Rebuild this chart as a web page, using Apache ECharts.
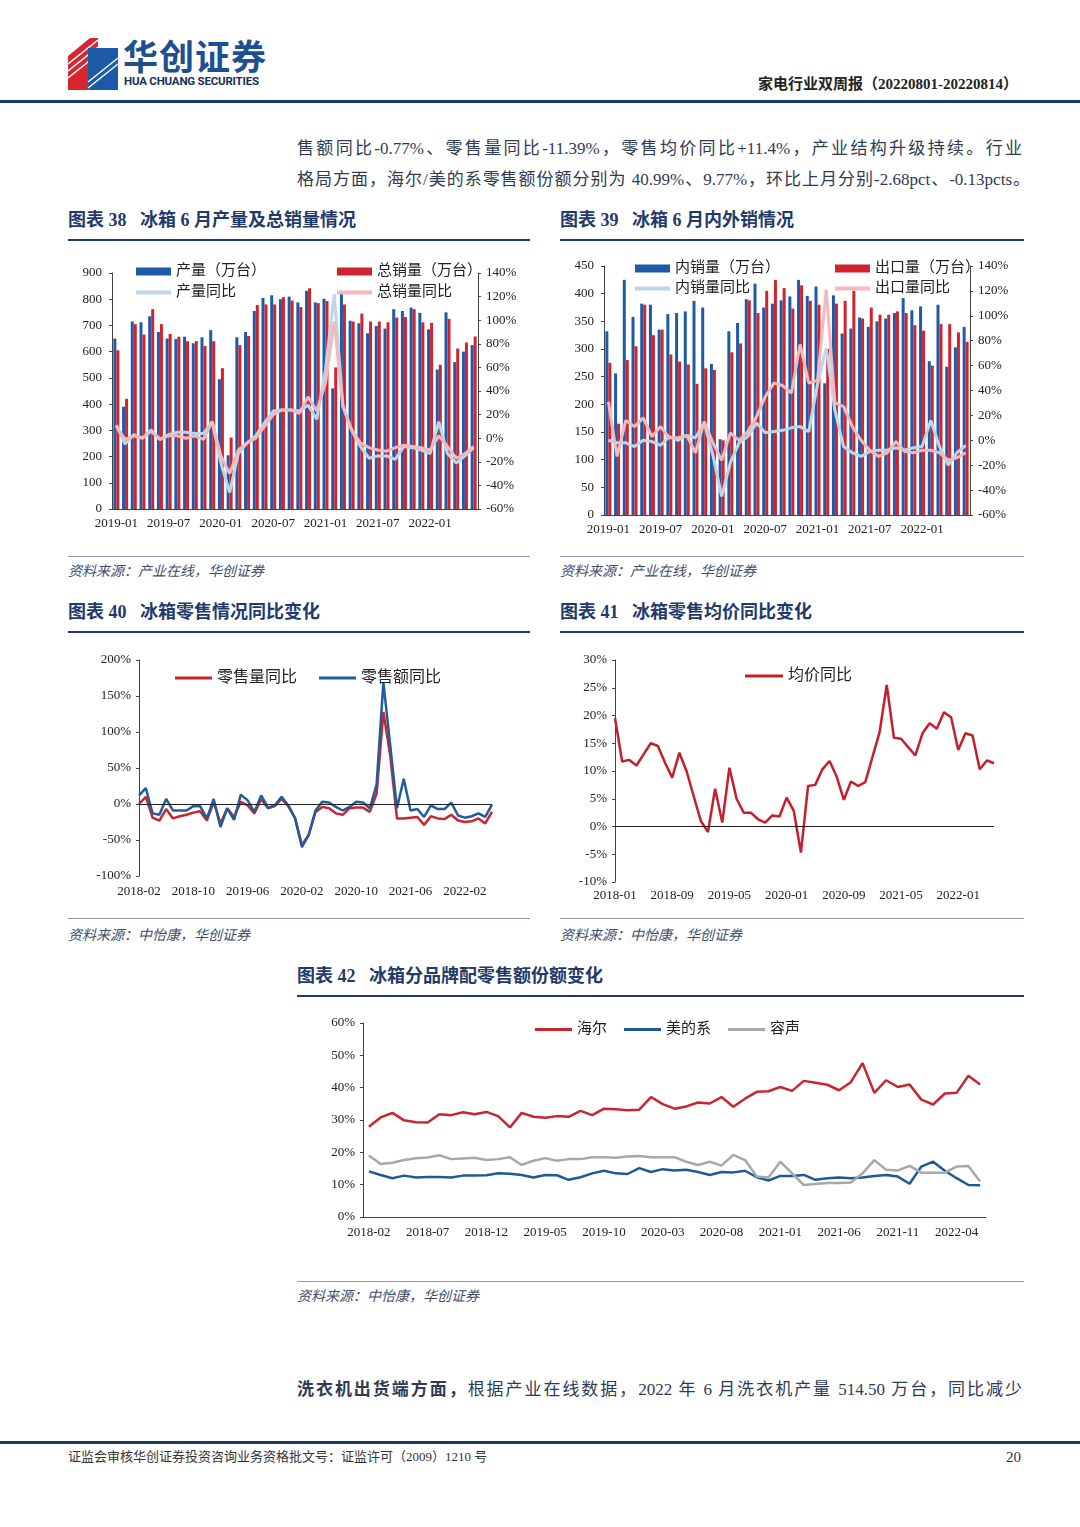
<!DOCTYPE html>
<html><head><meta charset="utf-8">
<script src="https://cdn.jsdelivr.net/npm/echarts/dist/echarts.min.js"></script>
<style>
html,body{margin:0;padding:0;background:#fff;}
body{width:1080px;height:1527px;position:relative;overflow:hidden;font-family:"Liberation Serif","Noto Sans CJK SC",serif;color:#2f3b52;}
.a{position:absolute;white-space:nowrap;}
.title{font-size:18px;font-weight:bold;color:#1f3a6b;line-height:22px;white-space:pre;}
.tline{position:absolute;height:2px;background:#1f3a6b;}
.sline{position:absolute;height:1px;background:#8a98b3;}
.src{font-size:14px;font-style:italic;color:#3e4d6b;line-height:18px;}
.chart{position:absolute;}
.para{position:absolute;font-size:17px;line-height:22px;color:#2f3b52;text-align:justify;text-align-last:justify;white-space:nowrap;}
</style>
</head><body>

<!-- header -->
<svg class="a" style="left:68px;top:38px" width="52" height="52" viewBox="0 0 52 52">
  <polygon points="0,18 22,0 30,0 30,52 0,52" fill="#d8262e"/>
  <g stroke="#fff" stroke-width="1.6">
    <line x1="0" y1="26" x2="30" y2="2"/>
    <line x1="0" y1="33" x2="30" y2="9"/>
    <line x1="0" y1="40" x2="30" y2="16"/>
  </g>
  <rect x="20" y="10" width="30" height="42" fill="#1d5aa6"/>
  <g stroke="#fff" stroke-width="1.4">
    <line x1="20" y1="44" x2="50" y2="20"/>
    <line x1="20" y1="50" x2="50" y2="26"/>
  </g>
</svg>
<div class="a" style="left:123px;top:34px;font-size:35px;font-weight:bold;color:#1d4f91;letter-spacing:1px;font-family:'Noto Sans CJK SC';line-height:42px;">华创证券</div>
<div class="a" style="left:124px;top:74px;font-size:11.5px;font-weight:bold;color:#1a2f55;font-family:Roboto,'Liberation Sans';letter-spacing:-0.2px;">HUA CHUANG SECURITIES</div>
<div class="a" style="right:62px;top:74px;font-size:15px;font-weight:bold;color:#222;line-height:20px;">家电行业双周报（20220801-20220814）</div>
<div class="a" style="left:0;top:100px;width:1080px;height:3px;background:#1f3a5f;"></div>

<div class="para" style="left:297px;top:138px;width:725px;">售额同比-0.77%、零售量同比-11.39%，零售均价同比+11.4%，产业结构升级持续。行业</div>
<div class="para" style="left:297px;top:169px;width:733px;">格局方面，海尔/美的系零售额份额分别为 40.99%、9.77%，环比上月分别-2.68pct、-0.13pcts。</div>

<!-- chart 38 -->
<div class="a title" style="left:68px;top:209px;">图表 38   冰箱 6 月产量及总销量情况</div>
<div class="tline" style="left:68px;top:239px;width:462px;"></div>
<div id="c38" class="chart" style="left:60px;top:250px;width:470px;height:290px;"></div>
<div class="sline" style="left:68px;top:556px;width:462px;"></div>
<div class="a src" style="left:68px;top:563px;">资料来源：产业在线，华创证券</div>

<!-- chart 39 -->
<div class="a title" style="left:560px;top:209px;">图表 39   冰箱 6 月内外销情况</div>
<div class="tline" style="left:560px;top:239px;width:464px;"></div>
<div id="c39" class="chart" style="left:555px;top:250px;width:470px;height:290px;"></div>
<div class="sline" style="left:560px;top:556px;width:464px;"></div>
<div class="a src" style="left:560px;top:563px;">资料来源：产业在线，华创证券</div>

<!-- chart 40 -->
<div class="a title" style="left:68px;top:601px;">图表 40   冰箱零售情况同比变化</div>
<div class="tline" style="left:68px;top:631px;width:462px;"></div>
<div id="c40" class="chart" style="left:60px;top:645px;width:450px;height:260px;"></div>
<div class="sline" style="left:68px;top:918px;width:462px;"></div>
<div class="a src" style="left:68px;top:927px;">资料来源：中怡康，华创证券</div>

<!-- chart 41 -->
<div class="a title" style="left:560px;top:601px;">图表 41   冰箱零售均价同比变化</div>
<div class="tline" style="left:560px;top:631px;width:464px;"></div>
<div id="c41" class="chart" style="left:555px;top:645px;width:450px;height:260px;"></div>
<div class="sline" style="left:560px;top:918px;width:464px;"></div>
<div class="a src" style="left:560px;top:927px;">资料来源：中怡康，华创证券</div>

<!-- chart 42 -->
<div class="a title" style="left:297px;top:965px;">图表 42   冰箱分品牌配零售额份额变化</div>
<div class="tline" style="left:297px;top:995px;width:727px;"></div>
<div id="c42" class="chart" style="left:300px;top:1005px;width:720px;height:245px;"></div>
<div class="sline" style="left:297px;top:1281px;width:727px;"></div>
<div class="a src" style="left:297px;top:1288px;">资料来源：中怡康，华创证券</div>

<div class="para" style="left:297px;top:1379px;width:725px;"><b>洗衣机出货端方面，</b>根据产业在线数据，2022 年 6 月洗衣机产量 514.50 万台，同比减少</div>

<div class="a" style="left:0;top:1441px;width:1080px;height:3px;background:#1f3a5f;"></div>
<div class="a" style="left:68px;top:1449px;font-size:13px;color:#333;line-height:16px;">证监会审核华创证券投资咨询业务资格批文号：证监许可（2009）1210 号</div>
<div class="a" style="left:1006px;top:1448px;font-size:15px;color:#333;line-height:18px;">20</div>

<script>
// ---------- data ----------
const months = ['2018-01','2018-02','2018-03','2018-04','2018-05','2018-06','2018-07','2018-08','2018-09','2018-10','2018-11','2018-12',
'2019-01','2019-02','2019-03','2019-04','2019-05','2019-06','2019-07','2019-08','2019-09','2019-10','2019-11','2019-12',
'2020-01','2020-02','2020-03','2020-04','2020-05','2020-06','2020-07','2020-08','2020-09','2020-10','2020-11','2020-12',
'2021-01','2021-02','2021-03','2021-04','2021-05','2021-06','2021-07','2021-08','2021-09','2021-10','2021-11','2021-12',
'2022-01','2022-02','2022-03','2022-04','2022-05','2022-06'];
const months38 = months.slice(12);   // 2019-01 .. 2022-06
const months40 = months.slice(1);    // 2018-02 .. 2022-06
const months41 = months;             // 2018-01 .. 2022-06
const months42 = months.slice(1);    // 2018-02 .. 2022-06

// chart 38 冰箱产量及总销量
const prod38 = [650,390,715,712,735,675,650,648,657,632,655,682,495,205,655,675,755,805,815,800,810,788,832,788,802,460,832,718,708,670,698,688,762,755,768,748,685,532,750,560,600,625];
const sales38 = [605,420,705,665,762,705,668,657,640,640,622,640,537,272,625,660,778,780,780,808,795,770,842,785,793,540,780,715,745,715,715,712,730,732,762,712,710,550,725,612,635,658];
const prodYoY38 = [11,-5,3,0,6,-1,3,5,5,4,4,14,-21,-46,-13,-4,2,13,23,24,24,23,28,16,58,122,27,7,-7,-17,-15,-15,-18,-7,-8,-10,-13,14,-13,-21,-15,-8];
const salesYoY38 = [10,-1,2,0,7,-1,2,2,0,2,-1,14,-15,-30,-10,-4,0,10,20,24,24,21,35,23,47,99,27,7,-4,-8,-10,-11,-8,-6,-7,-8,-10,2,-7,-17,-13,-7];

// chart 39 内外销
const dom39 = [332,256,425,358,382,380,335,363,365,368,387,375,273,137,332,347,390,418,375,382,388,395,425,396,413,238,397,328,337,357,340,350,355,365,392,370,377,278,380,268,303,340];
const exp39 = [275,165,280,305,380,325,335,290,277,272,237,265,262,135,294,310,388,365,405,425,410,373,415,387,380,300,382,387,405,355,375,362,362,368,365,343,333,270,345,345,330,313];
const domYoY39 = [0,-2,-2,-5,0,-1,-4,3,0,4,2,14,-12,-45,-18,-2,3,14,6,7,8,10,11,7,45,74,24,-5,-10,-13,-9,-8,-8,-6,-8,-6,-5,16,-5,-20,-10,-4];
const expYoY39 = [31,-13,16,11,18,3,11,2,2,4,-10,15,-2,-16,6,0,7,19,35,46,44,38,77,46,48,121,30,27,11,0,-8,-13,-10,-1,-9,-10,-8,-8,-10,-16,-14,-10];

// chart 40 零售同比
const vol40 = [0,10,-19,-23,-7,-20,-17,-15,-12,-10,-23,3,-27,-6,-18,3,-2,-13,7,-6,-3,7,-3,-20,-57,-43,-11,-4,-6,-13,-15,-6,-5,-5,-11,14,128,68,-20,-20,-19,-18,-29,-17,-20,-21,-15,-23,-25,-24,-20,-27,-11];
const amt40 = [12,22,-13,-15,7,-9,-9,-9,-3,-3,-20,7,-32,-6,-22,13,5,-11,12,-5,-2,10,-2,-20,-60,-43,-9,3,2,-4,-9,-4,3,2,-6,27,169,82,-6,35,-9,-7,-18,-2,-7,-7,2,-16,-19,-17,-13,-18,-1];

// chart 41 均价同比
const price41 = [19.5,11.7,12.0,11.0,13.0,15.0,14.5,11.5,8.8,13.3,10.0,5.5,1.0,-1.0,6.8,0.7,10.6,5.0,2.5,2.5,1.3,0.7,2.0,1.8,5.2,2.8,-4.7,7.3,7.5,10.3,11.8,9.0,4.8,8.1,7.3,8.0,12.5,17.0,25.5,16.0,15.8,14.3,12.8,16.8,18.6,17.6,20.6,19.7,13.8,16.8,16.4,10.3,11.9,11.4];

// chart 42 品牌零售额份额
const haier42 = [27.9,30.8,32.2,29.9,29.3,29.2,31.8,31.5,32.4,31.8,32.5,31.2,27.7,32.2,31.0,30.7,31.2,31.0,32.8,31.5,33.5,33.3,33.0,33.2,37.1,34.9,33.5,34.2,35.4,35.1,37.1,34.1,36.6,38.7,38.9,40.2,39.0,42.1,41.5,40.9,39.2,41.7,47.6,38.4,42.3,40.2,41.0,36.3,34.8,38.2,38.4,43.7,41.0];
const midea42 = [14.1,13.0,12.0,12.8,12.2,12.4,12.4,12.2,12.8,12.8,12.9,13.5,13.4,13.0,12.2,13.0,12.9,11.5,12.3,13.5,14.3,13.5,13.3,15.1,13.9,14.8,14.4,14.6,13.9,13.0,13.9,13.8,14.3,12.3,11.3,12.7,12.7,13.0,11.5,12.0,12.2,12.0,12.2,12.7,13.0,12.5,10.3,15.6,17.1,14.3,12.0,9.9,9.8];
const rongsheng42 = [19.0,16.4,16.8,17.6,18.2,18.4,19.1,17.9,18.1,18.3,17.6,17.9,18.5,16.1,17.4,18.2,17.4,17.9,17.9,18.5,18.5,18.3,18.7,18.9,18.5,18.5,18.5,17.1,16.1,17.1,15.9,19.2,17.6,12.5,12.2,17.1,13.5,9.9,10.2,10.5,10.5,10.7,13.5,17.6,14.6,14.4,15.8,13.7,13.7,13.7,15.6,15.8,11.0];

// ---------- styles ----------
const SERIF = '"Liberation Serif","Noto Sans CJK SC",serif';
const AX = '#444';
const lbl = (extra) => Object.assign({fontFamily:SERIF,fontSize:13,color:'#222'}, extra||{});
const legText = {fontFamily:SERIF,fontSize:15,color:'#222'};
const legBar = {icon:'rect',itemWidth:35,itemHeight:8,textStyle:legText};
const legLine = {icon:'rect',itemWidth:35,itemHeight:4,textStyle:legText};
const pctAxis = (min,max,iv,extra) => Object.assign({type:'value',min:min,max:max,interval:iv,splitLine:{show:false},
  axisLine:{show:true,onZero:false,lineStyle:{color:AX}},axisTick:{show:true,length:3,lineStyle:{color:AX}},
  axisLabel:lbl({formatter:'{value}%'})}, extra||{});

// ---------- chart 38 ----------
echarts.init(document.getElementById('c38')).setOption({
  animation:false,
  textStyle:{fontFamily:SERIF},
  grid:{left:52,right:52,top:23,bottom:31},
  legend:[
    Object.assign({data:['产量（万台）'],left:71,top:9},legBar),
    Object.assign({data:['总销量（万台）'],left:272,top:9},legBar),
    Object.assign({data:['产量同比'],left:71,top:30},legLine),
    Object.assign({data:['总销量同比'],left:272,top:30},legLine)
  ],
  xAxis:{type:'category',data:months38,axisLine:{onZero:false,lineStyle:{color:AX}},
    axisTick:{interval:5,alignWithLabel:true,length:4,lineStyle:{color:AX}},
    axisLabel:lbl({interval:5,margin:8})},
  yAxis:[
    {type:'value',min:0,max:900,interval:100,splitLine:{show:false},axisLine:{show:true,onZero:false,lineStyle:{color:AX}},
      axisTick:{show:true,length:3,lineStyle:{color:AX}},axisLabel:lbl({margin:10})},
    pctAxis(-60,140,20)
  ],
  series:[
    {name:'产量（万台）',type:'bar',data:prod38,barWidth:3,barGap:'0%',itemStyle:{color:'#1f5aa6'}},
    {name:'总销量（万台）',type:'bar',data:sales38,barWidth:3,barGap:'0%',itemStyle:{color:'#d0232e'}},
    {name:'产量同比',type:'line',yAxisIndex:1,data:prodYoY38,symbol:'none',z:3,lineStyle:{width:3,color:'#bcd7ea'},itemStyle:{color:'#bcd7ea'}},
    {name:'总销量同比',type:'line',yAxisIndex:1,data:salesYoY38,symbol:'none',z:4,lineStyle:{width:3,color:'#f3b9bc'},itemStyle:{color:'#f3b9bc'}}
  ]
});

// ---------- chart 39 ----------
echarts.init(document.getElementById('c39')).setOption({
  animation:false,
  textStyle:{fontFamily:SERIF},
  grid:{left:49,right:55,top:16,bottom:25},
  legend:[
    Object.assign({data:['内销量（万台）'],left:75,top:6},legBar),
    Object.assign({data:['出口量（万台）'],left:275,top:6},legBar),
    Object.assign({data:['内销量同比'],left:75,top:26},legLine),
    Object.assign({data:['出口量同比'],left:275,top:26},legLine)
  ],
  xAxis:{type:'category',data:months38,axisLine:{onZero:false,lineStyle:{color:AX}},
    axisTick:{interval:5,alignWithLabel:true,length:4,lineStyle:{color:AX}},
    axisLabel:lbl({interval:5,margin:8})},
  yAxis:[
    {type:'value',min:0,max:450,interval:50,splitLine:{show:false},axisLine:{show:true,onZero:false,lineStyle:{color:AX}},
      axisTick:{show:true,length:3,lineStyle:{color:AX}},axisLabel:lbl({margin:10})},
    pctAxis(-60,140,20)
  ],
  series:[
    {name:'内销量（万台）',type:'bar',data:dom39,barWidth:3,barGap:'0%',itemStyle:{color:'#1f5aa6'}},
    {name:'出口量（万台）',type:'bar',data:exp39,barWidth:3,barGap:'0%',itemStyle:{color:'#d0232e'}},
    {name:'内销量同比',type:'line',yAxisIndex:1,data:domYoY39,symbol:'none',z:3,lineStyle:{width:3,color:'#bcd7ea'},itemStyle:{color:'#bcd7ea'}},
    {name:'出口量同比',type:'line',yAxisIndex:1,data:expYoY39,symbol:'none',z:4,lineStyle:{width:3,color:'#f3b9bc'},itemStyle:{color:'#f3b9bc'}}
  ]
});

const zeroLine = {silent:true,symbol:'none',label:{show:false},lineStyle:{color:'#222',width:1,type:'solid'},data:[{yAxis:0}]};

// ---------- chart 40 ----------
echarts.init(document.getElementById('c40')).setOption({
  animation:false,
  textStyle:{fontFamily:SERIF},
  grid:{left:79,right:18,top:15,bottom:29},
  legend:{data:['零售量同比','零售额同比'],left:110,top:20,icon:'rect',itemWidth:37,itemHeight:3,itemGap:22,
    textStyle:{fontFamily:SERIF,fontSize:16,color:'#222'}},
  xAxis:{type:'category',boundaryGap:false,data:months40,axisLine:{show:false,onZero:false},axisTick:{show:false},
    axisLabel:lbl({interval:7,margin:9})},
  yAxis:pctAxis(-100,200,50),
  series:[
    {name:'零售量同比',type:'line',data:vol40,symbol:'none',lineStyle:{width:2.5,color:'#c9252f'},itemStyle:{color:'#c9252f'},markLine:zeroLine},
    {name:'零售额同比',type:'line',data:amt40,symbol:'none',lineStyle:{width:2.5,color:'#1f5d9c'},itemStyle:{color:'#1f5d9c'}}
  ]
});

// ---------- chart 41 ----------
echarts.init(document.getElementById('c41')).setOption({
  animation:false,
  textStyle:{fontFamily:SERIF},
  grid:{left:60,right:11,top:15,bottom:23},
  legend:{data:['均价同比'],left:185,top:18,icon:'rect',itemWidth:38,itemHeight:3,
    textStyle:{fontFamily:SERIF,fontSize:16,color:'#222'}},
  xAxis:{type:'category',boundaryGap:false,data:months41,axisLine:{show:false,onZero:false},axisTick:{show:false},
    axisLabel:lbl({interval:7,margin:7})},
  yAxis:pctAxis(-10,30,5),
  series:[
    {name:'均价同比',type:'line',data:price41,symbol:'none',lineStyle:{width:2.5,color:'#c41f2b'},itemStyle:{color:'#c41f2b'},markLine:zeroLine}
  ]
});

// ---------- chart 42 ----------
echarts.init(document.getElementById('c42')).setOption({
  animation:false,
  textStyle:{fontFamily:SERIF},
  grid:{left:63,right:34,top:18,bottom:33},
  legend:{data:['海尔','美的系','容声'],left:230,top:12,icon:'rect',itemWidth:37,itemHeight:3,itemGap:17,
    textStyle:{fontFamily:SERIF,fontSize:15,color:'#222'}},
  xAxis:{type:'category',boundaryGap:true,data:months42,axisLine:{onZero:false,lineStyle:{color:AX}},
    axisTick:{interval:4,alignWithLabel:true,length:4,lineStyle:{color:AX}},
    axisLabel:lbl({interval:4,margin:9})},
  yAxis:pctAxis(0,60,10),
  series:[
    {name:'海尔',type:'line',data:haier42,symbol:'none',lineStyle:{width:2.5,color:'#c9252f'},itemStyle:{color:'#c9252f'}},
    {name:'美的系',type:'line',data:midea42,symbol:'none',lineStyle:{width:2.5,color:'#1e5b94'},itemStyle:{color:'#1e5b94'}},
    {name:'容声',type:'line',data:rongsheng42,symbol:'none',lineStyle:{width:2.5,color:'#a8a8a8'},itemStyle:{color:'#a8a8a8'}}
  ]
});
</script>
</body></html>
